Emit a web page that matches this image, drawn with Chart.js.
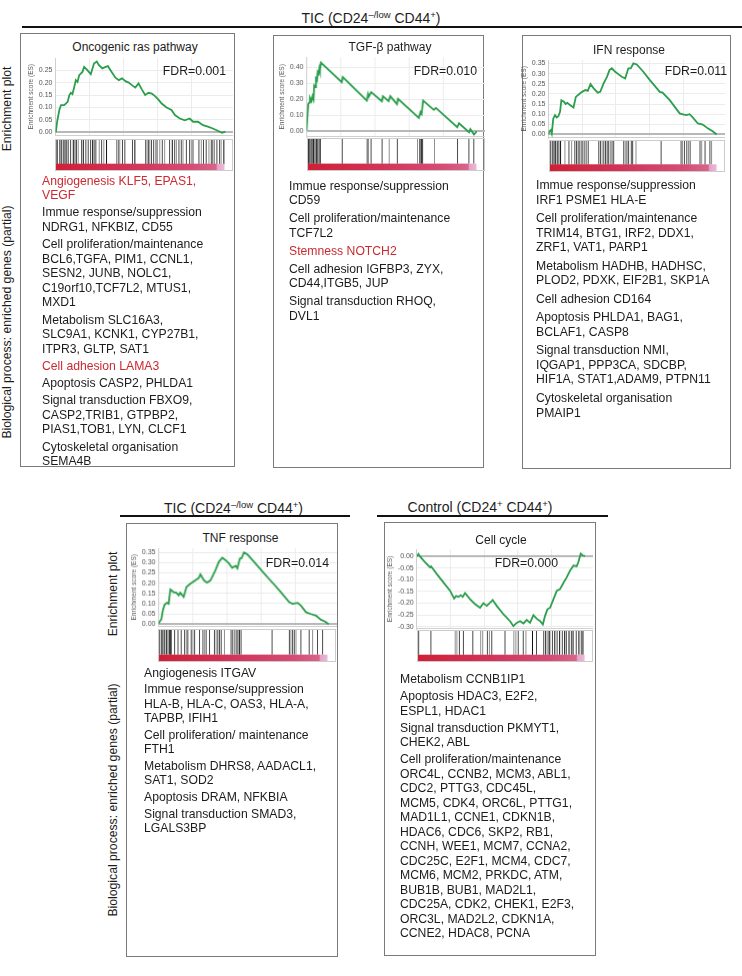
<!DOCTYPE html>
<html><head><meta charset="utf-8">
<script src="https://cdn.jsdelivr.net/npm/chart.js@4.4.1/dist/chart.umd.min.js"></script>
<style>
body{margin:0;width:742px;height:976px;position:relative;background:#fff;font-family:"Liberation Sans",Arial,Helvetica,sans-serif;color:#1c1c1c;overflow:hidden}
.box{position:absolute;border:1px solid #7a7a7a;box-sizing:border-box}
.hdr{position:absolute;font-size:14px;white-space:nowrap;transform:translate(-50%,-50%)}
.rule{position:absolute;height:2px;background:#111}
.ttl{position:absolute;font-size:12px;white-space:nowrap;transform:translate(-50%,-50%)}
.fdr{position:absolute;font-size:12.3px;white-space:nowrap;transform:translate(-100%,-50%)}
.side{position:absolute;font-size:12.2px;white-space:nowrap;transform:translate(-50%,-50%) rotate(-90deg)}
.txt{position:absolute;font-size:12.2px;line-height:14.5px;white-space:nowrap}
.red{color:#cb2a30}
sup{font-size:0.68em;vertical-align:0;position:relative;top:-0.5em}
canvas{position:absolute}
</style></head><body>
<script>
// ---------------- DATA ----------------
const panelTitles = ['Oncogenic ras pathway', 'TGF-\u03b2 pathway', 'IFN response', 'TNF response', 'Cell cycle'];
const fdrLabels = ['FDR=0.001', 'FDR=0.010', 'FDR=0.011', 'FDR=0.014', 'FDR=0.000'];

// running enrichment score: [rank %, ES]
const rasCurve = [[0,0],[0.4,0.009],[1,0.043],[2.3,0.09],[3.3,0.11],[5.2,0.11],[7.2,0.123],[8.2,0.15],[9.1,0.159],[10,0.154],[11,0.18],[12,0.21],[13,0.203],[14,0.23],[15.9,0.243],[16.9,0.263],[18.8,0.25],[20.8,0.234],[22.7,0.277],[24.3,0.285],[25.6,0.27],[27.6,0.257],[29.5,0.263],[30.9,0.266],[32.4,0.25],[35.3,0.22],[37.3,0.21],[39.2,0.217],[41.2,0.206],[43.1,0.2],[45,0.19],[47,0.18],[48.9,0.197],[50.9,0.172],[52.8,0.15],[54.8,0.159],[56.7,0.156],[58.6,0.146],[60.6,0.132],[62.5,0.116],[65.4,0.1],[68.3,0.09],[70.3,0.07],[73.2,0.056],[76.1,0.049],[79,0.056],[81,0.043],[83.9,0.043],[86.8,0.029],[89.7,0.023],[92.6,0.016],[95.5,0.007],[98,-0.001],[100,0.003]];
const tgfCurve = [[0,0.004],[0.4,0.077],[1,0.17],[1.6,0.18],[2,0.21],[2.9,0.19],[3.5,0.22],[4.1,0.2],[4.5,0.285],[5.1,0.276],[5.5,0.33],[6.1,0.32],[6.5,0.37],[7,0.36],[7.5,0.395],[7.8,0.38],[8.4,0.43],[20.6,0.307],[21.2,0.34],[35.3,0.192],[36,0.234],[36.5,0.218],[37.8,0.245],[44.1,0.188],[44.7,0.22],[48,0.188],[49,0.22],[52.9,0.17],[53.5,0.203],[65.7,0.084],[66.7,0.119],[67.3,0.109],[68.2,0.192],[74.5,0.134],[75.7,0.146],[88.2,0.025],[89.2,0.05],[95.1,-0.006],[95.9,0.013],[98,-0.021],[99.6,0]];
const ifnCurve = [[0,0],[0.4,0.013],[1.4,0.021],[2,0.005],[2.9,0.079],[3.9,0.095],[4.9,0.084],[5.9,0.09],[6.9,0.112],[7.7,0.169],[9.2,0.161],[10.2,0.15],[11.2,0.156],[12.8,0.145],[14.9,0.133],[16.3,0.185],[18.7,0.202],[20,0.21],[22,0.219],[23.4,0.215],[25,0.248],[26.9,0.227],[29.3,0.206],[30.8,0.21],[32.8,0.252],[34.8,0.284],[36.3,0.317],[37.7,0.326],[39.7,0.309],[41.7,0.296],[43.6,0.284],[45.6,0.276],[47.5,0.326],[48.9,0.326],[50.5,0.35],[52.5,0.345],[56.4,0.309],[60.3,0.268],[66.2,0.21],[67.8,0.206],[72.1,0.169],[78,0.104],[80,0.099],[81.9,0.095],[83.9,0.1],[85.5,0.087],[88.8,0.054],[91.7,0.049],[94.7,0.03],[97.6,0.016],[100,0]];
const tnfCurve = [[0,0],[0.6,0.012],[1.6,0.022],[2.5,0.066],[3.5,0.094],[4.9,0.104],[5.9,0.099],[6.9,0.169],[8.8,0.156],[10.4,0.153],[11.8,0.14],[12.7,0.153],[14.7,0.132],[16.3,0.181],[18.6,0.197],[21.6,0.214],[23.5,0.225],[24.5,0.243],[26.5,0.214],[28.4,0.202],[30.4,0.214],[33.3,0.263],[35.3,0.304],[37.3,0.324],[39.2,0.312],[41.2,0.296],[43.1,0.275],[45.1,0.285],[46.1,0.272],[47.6,0.32],[48.6,0.322],[50,0.35],[52,0.34],[55.9,0.304],[61.8,0.247],[66.7,0.202],[71.6,0.156],[76.5,0.107],[78.4,0.099],[81.4,0.104],[83.3,0.09],[86.3,0.058],[89.2,0.049],[92.2,0.041],[95.1,0.021],[97.5,0.012],[99.6,0]];
const ccCurve = [[0,0],[0.4,0.003],[1,0.009],[2,-0.002],[5,-0.026],[7.9,-0.047],[8.5,-0.043],[11.9,-0.076],[15.8,-0.111],[19.8,-0.147],[22.2,-0.18],[23.4,-0.169],[24.8,-0.173],[26.1,-0.166],[27.3,-0.173],[28.7,-0.157],[31.7,-0.183],[34.7,-0.204],[37.6,-0.219],[39.6,-0.2],[41.6,-0.211],[43.6,-0.197],[45.1,-0.186],[47.5,-0.211],[51.5,-0.247],[55.4,-0.276],[57.4,-0.297],[59.4,-0.283],[61.4,-0.276],[63.4,-0.286],[65.3,-0.271],[67.3,-0.283],[69.3,-0.251],[71.3,-0.266],[73.3,-0.276],[74.9,-0.29],[76.2,-0.254],[77.6,-0.226],[79.2,-0.219],[81.2,-0.183],[83.2,-0.147],[85.1,-0.14],[87.1,-0.114],[89.1,-0.09],[91.1,-0.061],[93.1,-0.04],[95,-0.043],[96,-0.026],[97.4,0.01],[98.6,0.003],[100,0]];

// gene-set hits: [rank %, tone (1 dark, 2 mid, 3 light)]
const rasHits = [[0.6,1],[1.4,2],[2.9,1],[3.9,2],[4.9,2],[5.9,1],[6.9,2],[7.8,2],[9.2,2],[10.8,1],[11.8,2],[12.7,2],[13.7,3],[15.7,2],[16.7,1],[18.2,2],[19.6,2],[21,2],[22.2,1],[23.1,2],[24.1,2],[26.1,3],[27.5,2],[28.8,3],[30.4,1],[36.3,3],[37.3,2],[38.2,3],[39.8,2],[41.2,2],[45.7,2],[47.1,1],[53.5,2],[54.3,3],[55.1,2],[55.9,3],[56.9,2],[58.2,2],[59.4,3],[60.2,2],[61.8,3],[63.3,2],[64.7,3],[67.6,2],[69.2,1],[70.6,2],[71.6,3],[73.1,2],[74.5,2],[75.5,3],[77.5,2],[79.4,2],[80.4,3],[81.4,2],[84.9,2],[86.3,3],[87.6,2],[89.2,2],[90.8,3],[92.2,2],[93.1,2],[94.1,3],[95.5,2],[97.1,2],[98,3],[99.6,1]];
const tgfHits = [[0.4,2],[1,1],[1.6,2],[2.4,1],[3.1,2],[3.9,1],[4.7,2],[5.5,1],[6.3,2],[7.1,2],[7.8,1],[20.8,2],[35.5,2],[36.3,3],[37.8,2],[44.3,2],[48.5,3],[53.3,2],[65.2,3],[66.5,2],[67.3,1],[67.8,1],[68.2,2],[75.2,3],[88.8,2],[95.5,2],[98.4,2]];
const ifnHits = [[1,2],[2,2],[3,1],[4,1],[5,2],[5.9,2],[6.9,1],[9.5,3],[11.9,2],[13.5,3],[15.4,2],[16.4,2],[17.4,2],[18.4,2],[19.4,3],[20.2,2],[21.4,2],[22.4,3],[23.4,2],[29.7,2],[30.7,2],[31.7,3],[32.7,2],[33.7,2],[34.7,2],[35.6,2],[36.6,3],[37.6,2],[38.6,2],[44.6,2],[45.5,3],[46.5,2],[47.5,2],[49.1,2],[49.9,2],[51.9,3],[66.9,2],[78.8,2],[79.6,3],[80.8,2],[82.2,2],[83.2,3],[84.2,2],[90.1,2],[91.1,3],[93.1,2],[96,2],[97,3]];
const tnfHits = [[1,2],[2,2],[2.9,1],[3.9,2],[4.9,1],[5.9,2],[6.9,1],[7.5,1],[7.8,2],[9.8,2],[11.8,2],[13.7,2],[15.7,2],[16.7,3],[17.6,2],[19.6,2],[20.6,3],[21.6,2],[24.5,2],[26.5,2],[27.5,3],[28.4,2],[30.4,2],[33.3,2],[34.3,3],[35.3,2],[36.3,2],[37.3,2],[39.2,3],[43.1,2],[44.1,2],[45.1,3],[46.1,2],[47.1,2],[48,1],[49,2],[67.3,2],[77.5,2],[78.4,3],[79.4,2],[80.4,2],[81.4,3],[84.3,2],[89.2,2],[91.2,3],[94.1,2],[97.1,2]];
const ccHits = [[1,2],[8.3,2],[22.8,3],[23.8,3],[25.3,2],[27.7,2],[33.3,2],[38,3],[39.2,3],[42,2],[43.2,3],[44.6,2],[52.5,2],[57.8,3],[59,3],[60.4,2],[63.4,2],[65,3],[68.9,1],[71.3,2],[75.6,2],[76.8,1],[78.2,2],[79.2,1],[80.8,2],[82.2,1],[83.6,2],[85.1,1],[86.7,2],[88.1,1],[89.1,2],[90.7,1],[92.1,2],[93.1,1],[95,2],[96.6,1],[98,2],[99,1]];

// y tick values
const ticksRas = [0, 0.05, 0.10, 0.15, 0.20, 0.25];
const ticksTgf = [0, 0.05, 0.10, 0.15, 0.20, 0.25, 0.30, 0.35, 0.40, 0.45];
const ticksIfn = [0, 0.05, 0.10, 0.15, 0.20, 0.25, 0.30, 0.35];
const ticksTnf = [0, 0.05, 0.10, 0.15, 0.20, 0.25, 0.30, 0.35];
const ticksCc = [0, -0.05, -0.10, -0.15, -0.20, -0.25, -0.30];

// enriched genes text: groups of lines, flagged when shown in red
const rasGenes = [
  {red:true, lines:['Angiogenesis KLF5, EPAS1,','VEGF']},
  {lines:['Immue response/suppression','NDRG1, NFKBIZ, CD55']},
  {lines:['Cell proliferation/maintenance','BCL6,TGFA, PIM1, CCNL1,','SESN2, JUNB, NOLC1,','C19orf10,TCF7L2, MTUS1,','MXD1']},
  {lines:['Metabolism SLC16A3,','SLC9A1, KCNK1, CYP27B1,','ITPR3, GLTP, SAT1']},
  {red:true, lines:['Cell adhesion LAMA3']},
  {lines:['Apoptosis CASP2, PHLDA1']},
  {lines:['Signal transduction FBXO9,','CASP2,TRIB1, GTPBP2,','PIAS1,TOB1, LYN, CLCF1']},
  {lines:['Cytoskeletal organisation','SEMA4B']}
];
const tgfGenes = [
  {lines:['Immue response/suppression','CD59']},
  {lines:['Cell proliferation/maintenance','TCF7L2']},
  {red:true, lines:['Stemness NOTCH2']},
  {lines:['Cell adhesion IGFBP3, ZYX,','CD44,ITGB5, JUP']},
  {lines:['Signal transduction RHOQ,','DVL1']}
];
const ifnGenes = [
  {lines:['Immue response/suppression','IRF1 PSME1 HLA-E']},
  {lines:['Cell proliferation/maintenance','TRIM14, BTG1, IRF2, DDX1,','ZRF1, VAT1, PARP1']},
  {lines:['Metabolism HADHB, HADHSC,','PLOD2, PDXK, EIF2B1, SKP1A']},
  {lines:['Cell adhesion CD164']},
  {lines:['Apoptosis PHLDA1, BAG1,','BCLAF1, CASP8']},
  {lines:['Signal transduction NMI,','IQGAP1, PPP3CA, SDCBP,','HIF1A, STAT1,ADAM9, PTPN11']},
  {lines:['Cytoskeletal organisation','PMAIP1']}
];
const tnfGenes = [
  {lines:['Angiogenesis ITGAV']},
  {lines:['Immue response/suppression','HLA-B, HLA-C, OAS3, HLA-A,','TAPBP, IFIH1']},
  {lines:['Cell proliferation/ maintenance','FTH1']},
  {lines:['Metabolism DHRS8, AADACL1,','SAT1, SOD2']},
  {lines:['Apoptosis DRAM, NFKBIA']},
  {lines:['Signal transduction SMAD3,','LGALS3BP']}
];
const ccGenes = [
  {lines:['Metabolism CCNB1IP1']},
  {lines:['Apoptosis HDAC3, E2F2,','ESPL1, HDAC1']},
  {lines:['Signal transduction PKMYT1,','CHEK2, ABL']},
  {lines:['Cell proliferation/maintenance','ORC4L, CCNB2, MCM3, ABL1,','CDC2, PTTG3, CDC45L,','MCM5, CDK4, ORC6L, PTTG1,','MAD1L1, CCNE1, CDKN1B,','HDAC6, CDC6, SKP2, RB1,','CCNH, WEE1, MCM7, CCNA2,','CDC25C, E2F1,  MCM4, CDC7,','MCM6, MCM2, PRKDC, ATM,','BUB1B, BUB1, MAD2L1,','CDC25A, CDK2, CHEK1, E2F3,','ORC3L, MAD2L2, CDKN1A,','CCNE2, HDAC8, PCNA']}
];

// ---------------- LAYOUT ----------------
const FONT = "'Liberation Sans', Arial, Helvetica, sans-serif";
Chart.defaults.font.family = FONT;
const XMAX = 105;
const TONES = {1:'#111111', 2:'#4a4a4a', 3:'#8f8f8f'};

function el(cls, html, css){
  const d = document.createElement('div');
  d.className = cls; d.innerHTML = html;
  Object.assign(d.style, css);
  document.body.appendChild(d);
  return d;
}
const ticLabel = 'TIC (CD24<sup>\u2013/low</sup> CD44<sup>+</sup>)';
el('hdr', ticLabel, {left:'371px', top:'18px'});
el('rule', '', {left:'22px', top:'26px', width:'720px'});
el('hdr', ticLabel, {left:'233.5px', top:'507.5px'});
el('rule', '', {left:'120px', top:'515px', width:'230px'});
el('hdr', 'Control (CD24<sup>+</sup> CD44<sup>+</sup>)', {left:'480px', top:'507px'});
el('rule', '', {left:'377px', top:'515px', width:'231px'});

el('side', 'Enrichment plot', {left:'7px', top:'109px'});
el('side', 'Biological process: enriched genes (partial)', {left:'6.5px', top:'322px'});
el('side', 'Enrichment plot', {left:'112.5px', top:'594px'});
el('side', 'Biological process: enriched genes (partial)', {left:'113px', top:'800px'});

const panels = [
  {box:[20,33,215,434], title:[135,47], fdr:[226,70.7], curve:rasCurve, hits:rasHits, ticks:ticksRas, genes:rasGenes,
   L:55, W:170, T:58, B:135, min:-0.011, max:0.298, hT:138.7, hB:164, bB:171.3, tx:42, ty:173.7, gap:2.8},
  {box:[273,35,211,433], title:[390,46.7], fdr:[477,70.7], curve:tgfCurve, hits:tgfHits, ticks:ticksTgf, genes:tgfGenes,
   L:306.7, W:170, T:56.7, B:136, min:-0.033, max:0.464, hT:138.3, hB:164.3, bB:171.7, tx:289, ty:178.7, gap:3.5},
  {box:[522,35,209,434], title:[629,50], fdr:[727,70.7], curve:ifnCurve, hits:ifnHits, ticks:ticksIfn, genes:ifnGenes,
   L:548.7, W:168.3, T:60, B:137.3, min:-0.015, max:0.366, hT:140, hB:165, bB:172.7, tx:536, ty:178, gap:4.1},
  {box:[126,523,212,434], title:[240.5,537.7], fdr:[329,563.3], curve:tnfCurve, hits:tnfHits, ticks:ticksTnf, genes:tnfGenes,
   L:158.3, W:170, T:548.3, B:625.5, min:-0.011, max:0.37, hT:628.5, hB:654.3, bB:661.7, tx:144, ty:665.7, gap:2.1},
  {box:[384,522,212,434], title:[501,540], fdr:[558,563.3], curve:ccCurve, hits:ccHits, ticks:ticksCc, genes:ccGenes,
   L:416.7, W:168.3, T:549, B:627.5, min:-0.308, max:0.029, hT:630, hB:655, bB:662.3, tx:400, ty:672.3, gap:2.5}
];

const barPlugin = {
  id:'gradBar',
  afterDraw(chart){
    const {ctx, chartArea:ca, scales:{x}} = chart;
    const barH = chart.options.layout.padding.bottom;
    const x0 = x.getPixelForValue(0), x1 = x.getPixelForValue(100);
    const g = ctx.createLinearGradient(x0, 0, x1, 0);
    g.addColorStop(0, '#cf1f36');
    g.addColorStop(0.45, '#d2355a');
    g.addColorStop(0.8, '#d54c74');
    g.addColorStop(0.95, '#d8648a');
    g.addColorStop(0.958, '#e6a2c6');
    g.addColorStop(1, '#ecb9d8');
    ctx.save();
    ctx.fillStyle = g;
    ctx.fillRect(x0, ca.bottom, x1 - x0, barH);
    ctx.strokeStyle = '#cccccc'; ctx.lineWidth = 1;
    ctx.strokeRect(ca.left + 0.5, ca.top + 0.5, ca.right - ca.left - 1, ca.bottom - ca.top + barH - 1);
    ctx.restore();
  }
};

function esChart(p){
  const cv = document.createElement('canvas');
  const fw = p.W * XMAX / 100, ph = p.B - p.T;
  cv.width = fw + 40; cv.height = ph + 10;
  document.body.appendChild(cv);
  const ticks = p.ticks;
  const chart = new Chart(cv, {
    type:'line',
    data:{datasets:[{data:p.curve.map(d => ({x:d[0], y:d[1]})), borderColor:'#2a9e4b', borderWidth:1.8,
      pointRadius:0, tension:0, fill:false}]},
    options:{
      responsive:false, maintainAspectRatio:false, animation:false, events:[],
      layout:{padding:0, autoPadding:false},
      plugins:{legend:{display:false}, tooltip:{enabled:false}},
      scales:{
        x:{type:'linear', min:0, max:XMAX,
           ticks:{display:false, stepSize:20},
           grid:{color:'#ececec', drawTicks:false},
           border:{display:true, color:'#cfcfcf'}},
        y:{type:'linear', min:p.min, max:p.max,
           afterBuildTicks: s => { s.ticks = ticks.map(v => ({value:v})); },
           ticks:{font:{size:7}, color:'#555', padding:3, callback: v => Number(v).toFixed(2)},
           grid:{color: c => (c.tick && Math.abs(c.tick.value) < 1e-9) ? '#b8b8b8' : '#ececec',
                 lineWidth: c => (c.tick && Math.abs(c.tick.value) < 1e-9) ? 2 : 1,
                 drawTicks:false},
           border:{display:true, color:'#cfcfcf'},
           title:{display:true, text:'Enrichment score (ES)', font:{size:6.5}, color:'#555', padding:{top:0,bottom:1}}}
      }
    }
  });
  for (let i = 0; i < 3; i++) {
    const ca = chart.chartArea;
    const dl = ca.left, dt = ca.top, dr = chart.width - ca.right, db = chart.height - ca.bottom;
    chart.resize(Math.round((fw + dl + dr) * 10) / 10, Math.round((ph + dt + db) * 10) / 10);
    const ca2 = chart.chartArea;
    cv.style.left = (p.L - ca2.left) + 'px';
    cv.style.top = (p.T - ca2.top) + 'px';
  }
}

function hitsChart(p){
  const cv = document.createElement('canvas');
  const fw = p.W * XMAX / 100, hh = p.hB - p.hT, bh = p.bB - p.hB;
  cv.width = fw; cv.height = hh + bh;
  cv.style.left = p.L + 'px'; cv.style.top = p.hT + 'px';
  document.body.appendChild(cv);
  new Chart(cv, {
    type:'scatter',
    data:{datasets:[{data:p.hits.map(h => ({x:h[0], y:0.5})),
      pointStyle:'line', pointRotation:90, pointRadius:hh/2, pointBorderWidth:1,
      pointBorderColor:p.hits.map(h => TONES[h[1]]), pointBackgroundColor:p.hits.map(h => TONES[h[1]]),
      clip:false}]},
    options:{
      responsive:false, maintainAspectRatio:false, animation:false, events:[],
      layout:{padding:{left:0, right:0, top:0, bottom:bh}, autoPadding:false},
      plugins:{legend:{display:false}, tooltip:{enabled:false}},
      scales:{x:{type:'linear', min:0, max:XMAX, display:false}, y:{min:0, max:1, display:false}}
    },
    plugins:[barPlugin]
  });
}

panels.forEach((p, i) => {
  el('box', '', {left:p.box[0]+'px', top:p.box[1]+'px', width:p.box[2]+'px', height:p.box[3]+'px'});
  el('ttl', panelTitles[i], {left:p.title[0]+'px', top:p.title[1]+'px'});
  esChart(p);
  hitsChart(p);
  el('fdr', fdrLabels[i], {left:p.fdr[0]+'px', top:p.fdr[1]+'px'});
  const html = p.genes.map((g, k) =>
    `<div class="${g.red ? 'red' : ''}" style="margin-top:${k ? p.gap : 0}px">${g.lines.join('<br>')}</div>`).join('');
  el('txt', html, {left:p.tx+'px', top:p.ty+'px'});
});
</script>
</body></html>
